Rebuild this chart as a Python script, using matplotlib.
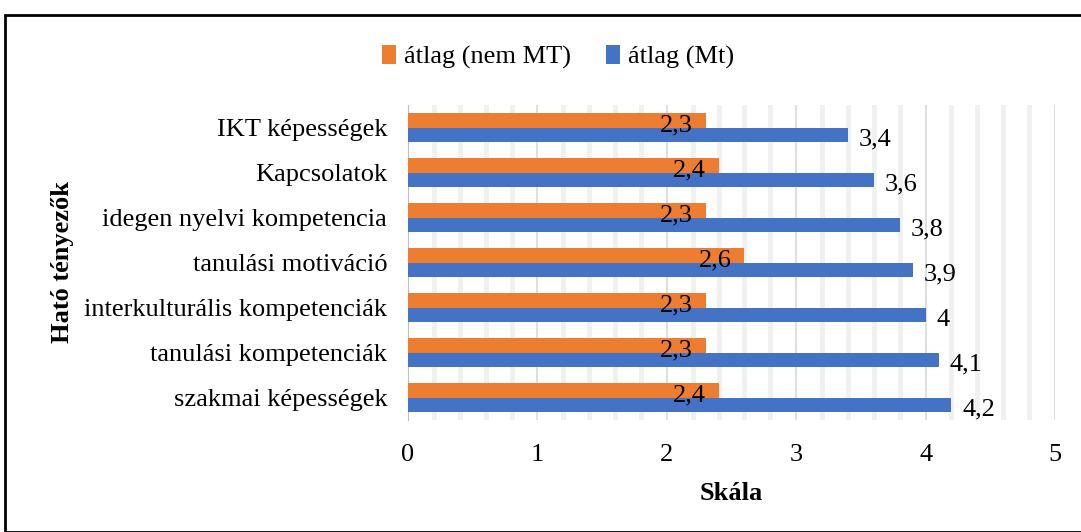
import matplotlib
matplotlib.use("Agg")
import matplotlib.pyplot as plt
import numpy as np
from matplotlib.patches import Rectangle

categories = ["IKT képességek", "Kapcsolatok", "idegen nyelvi kompetencia",
              "tanulási motiváció", "interkulturális kompetenciák",
              "tanulási kompetenciák", "szakmai képességek"]
nem_mt = [2.3, 2.4, 2.3, 2.6, 2.3, 2.3, 2.4]
mt = [3.4, 3.6, 3.8, 3.9, 4.0, 4.1, 4.2]
x_ticks = [0, 1, 2, 3, 4, 5]

plt.rcParams['font.family'] = ['Liberation Serif', 'DejaVu Serif']

W, H = 1081, 532
FS = 19
fig = plt.figure(figsize=(W/100, H/100), dpi=100)
ax = fig.add_axes([408/W, 1-420/H, (1055-408)/W, (420-105)/H])

orange = '#ED7D31'
blue = '#4472C4'
n = len(categories)
pos = np.arange(n)[::-1]
h = 0.333
ax.barh(pos + h/2, nem_mt, height=h, color=orange, label='átlag (nem MT)', zorder=3)
ax.barh(pos - h/2, mt, height=h, color=blue, label='átlag (Mt)', zorder=3)

for p, v in zip(pos, nem_mt):
    ax.annotate(f"{v:g}".replace('.', ','), (v, p + h/2), xytext=(-9, -4),
                textcoords='offset points', ha='right', va='center', fontsize=FS, zorder=4)
for p, v in zip(pos, mt):
    ax.annotate(f"{v:g}".replace('.', ','), (v, p - h/2), xytext=(8, -3.5),
                textcoords='offset points', ha='left', va='center', fontsize=FS, zorder=4)

ax.set_xlim(0, 5)
ax.set_ylim(-0.5, n - 0.5)
ax.set_xticks(x_ticks)
ax.set_xticks(np.arange(0, 5.01, 0.2), minor=True)
ax.grid(axis='x', which='minor', color='#F0F0F0', linewidth=3.5, zorder=0)
ax.grid(axis='x', which='major', color='#D9D9D9', linewidth=1.2, zorder=1)
ax.set_yticks(pos)
ax.set_yticklabels(categories, fontsize=FS)
ax.tick_params(axis='both', which='both', length=0, labelsize=FS)
ax.tick_params(axis='y', pad=15)
ax.tick_params(axis='x', pad=17)
for s in ['top', 'right', 'bottom']:
    ax.spines[s].set_visible(False)
ax.spines['left'].set_color('#BFBFBF')

ax.set_xlabel('Skála', fontsize=FS, fontweight='bold', labelpad=12)
fig.text(62/W, 1-262/H, 'Ható tényezők', rotation=90, fontsize=FS, fontweight='bold',
         ha='center', va='center')

handles, labels = ax.get_legend_handles_labels()
fig.legend(handles, labels, loc='center', bbox_to_anchor=(558/W, 1-57/H), ncol=2,
           frameon=False, fontsize=FS, handlelength=0.55, handleheight=0.75,
           handletextpad=0.3, columnspacing=1.3)

fig.patches.append(Rectangle((5/W, 0), 1.2, 1-15/H, transform=fig.transFigure,
                             fill=False, edgecolor='black', linewidth=2))

fig.savefig('out.png', dpi=100)
